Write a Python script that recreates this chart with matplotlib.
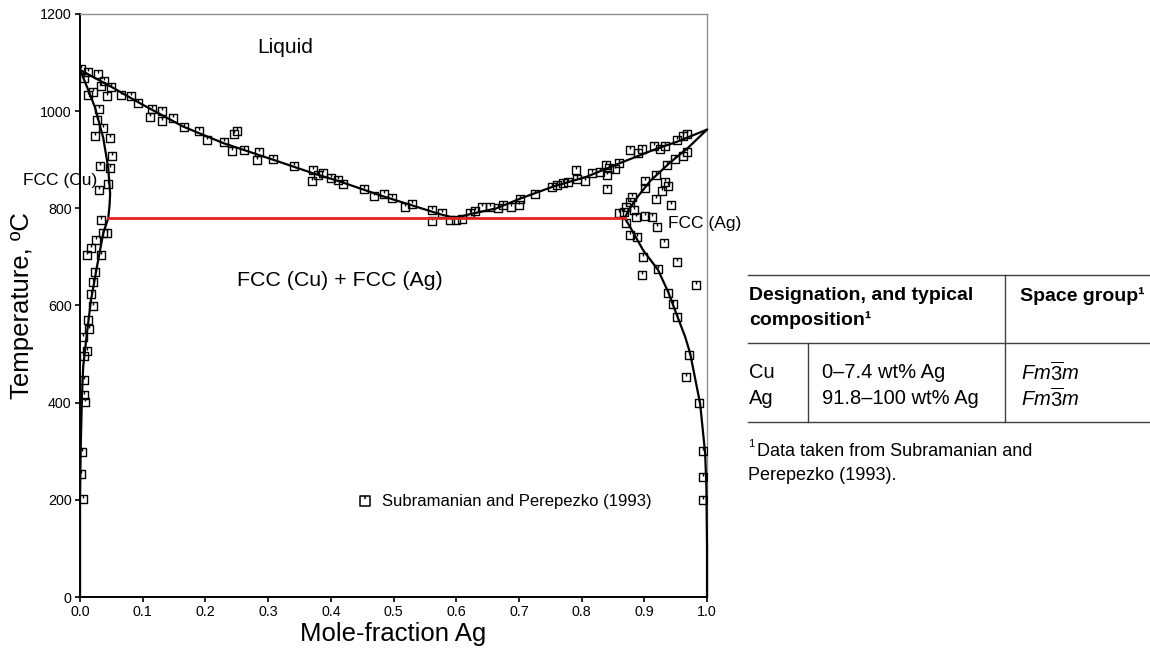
import numpy as np
import matplotlib
matplotlib.use("Agg")
import matplotlib.pyplot as plt
from matplotlib.path import Path
from matplotlib.lines import Line2D

plt.rcParams["font.family"] = ["Liberation Sans", "DejaVu Sans"]
plt.rcParams["mathtext.fontset"] = "custom"
plt.rcParams["mathtext.rm"] = "Liberation Sans"
plt.rcParams["mathtext.it"] = "Liberation Sans:italic"
plt.rcParams["mathtext.bf"] = "Liberation Sans:bold"

# ===============================
# Measured points (Subramanian and Perepezko, 1993)
# ===============================
cu_x = [0.002, 0.012, 0.006, 0.028, 0.038, 0.033, 0.049, 0.020, 0.012, 0.043,
        0.030, 0.027, 0.037, 0.024, 0.047, 0.051, 0.032, 0.047, 0.045, 0.030,
        0.033, 0.036, 0.043, 0.025, 0.017, 0.011, 0.033, 0.024, 0.021, 0.018,
        0.020, 0.012, 0.014, 0.004, 0.011, 0.006, 0.006, 0.006, 0.008, 0.003,
        0.002, 0.004]
cu_t = [1087, 1080, 1068, 1077, 1063, 1052, 1049, 1039, 1033, 1031,
        1005, 982, 966, 949, 944, 908, 887, 882, 850, 838,
        777, 750, 749, 735, 718, 703, 703, 668, 649, 623,
        599, 570, 551, 535, 507, 496, 447, 416, 402, 299,
        253, 201]

liq_x = [0.066, 0.082, 0.092, 0.114, 0.130, 0.112, 0.130, 0.149, 0.166, 0.190,
         0.202, 0.229, 0.250, 0.245, 0.242, 0.262, 0.285, 0.283, 0.307, 0.342,
         0.372, 0.370, 0.380, 0.388, 0.401, 0.412, 0.420, 0.453, 0.469, 0.485,
         0.498, 0.518, 0.530, 0.562, 0.561, 0.577, 0.590, 0.600, 0.610, 0.622,
         0.630, 0.641, 0.654, 0.666, 0.675, 0.687, 0.700, 0.702, 0.726, 0.752,
         0.760, 0.771, 0.779, 0.791, 0.792, 0.805, 0.816, 0.829, 0.839, 0.841,
         0.840, 0.844, 0.854, 0.859, 0.877, 0.890, 0.897, 0.915, 0.925, 0.933,
         0.952, 0.961, 0.968]
liq_t = [1033, 1031, 1017, 1004, 1000, 987, 980, 985, 967, 959,
         941, 936, 959, 953, 917, 921, 915, 900, 901, 887,
         879, 857, 869, 872, 863, 858, 851, 840, 825, 829,
         821, 803, 809, 797, 774, 790, 776, 776, 779, 790,
         795, 802, 802, 800, 806, 803, 807, 819, 830, 843,
         848, 853, 855, 878, 860, 857, 873, 875, 890, 869,
         839, 882, 880, 894, 920, 913, 922, 929, 923, 929,
         941, 948, 954]

ag_x = [0.968, 0.961, 0.949, 0.936, 0.919, 0.901, 0.901, 0.933, 0.938, 0.928,
        0.919, 0.881, 0.877, 0.871, 0.860, 0.867, 0.887, 0.901, 0.913, 0.943,
        0.920, 0.883, 0.870, 0.877, 0.889, 0.932, 0.898, 0.952, 0.922, 0.896,
        0.983, 0.937, 0.945, 0.952, 0.971, 0.966, 0.988, 0.993, 0.993, 0.993]
ag_t = [915, 908, 901, 889, 869, 856, 841, 855, 845, 836,
        820, 823, 814, 802, 791, 793, 782, 784, 782, 807,
        761, 797, 769, 746, 742, 728, 699, 690, 675, 663,
        642, 625, 603, 577, 498, 453, 399, 301, 246, 200]

# ===============================
# Assessed phase boundaries
# ===============================
liquidus_x = [0.0, 0.05, 0.096, 0.165, 0.229, 0.308, 0.372, 0.415, 0.478, 0.537,
              0.574, 0.598, 0.622, 0.664, 0.702, 0.755, 0.808, 0.861, 0.914, 0.952, 1.0]
liquidus_t = [1085, 1050, 1016, 968, 934, 900, 872, 855, 827, 803,
              788, 780, 788, 800, 820, 845, 865, 893, 920, 937, 962]

cu_bound_x = [0.0, 0.013, 0.024, 0.037, 0.045, 0.048, 0.047, 0.045, 0.037, 0.027,
              0.0175, 0.011, 0.005, 0.003, 0.001, 0.0, 0.0]
cu_bound_t = [1085, 1044, 1007, 945, 883, 830, 805, 780, 749, 680,
              611, 543, 474, 412, 302, 200, 0]

ag_bound_x = [1.0, 0.97, 0.94, 0.91, 0.89, 0.875, 0.869, 0.878, 0.898, 0.922,
              0.938, 0.952, 0.965, 0.973, 0.989, 0.997, 0.999, 1.0, 1.0]
ag_bound_t = [962, 925, 893, 857, 825, 797, 780, 760, 714, 673,
              628, 580, 536, 502, 398, 296, 227, 100, 0]

eutectic_t = 780
eutectic_x = [0.045, 0.869]

# ===============================
# Table content
# ===============================
tab_header = ["Designation, and typical", "composition\u00b9", "Space group\u00b9"]
tab_phase = ["Cu", "Ag"]
tab_comp = ["0\u20137.4 wt% Ag", "91.8\u2013100 wt% Ag"]
tab_group = [r"$\mathit{Fm\overline{3}m}$", r"$\mathit{Fm\overline{3}m}$"]
footnote = ["Data taken from Subramanian and", "Perepezko (1993)."]

# square marker with a short tick at the top
mk = Path([(-1, -1), (1, -1), (1, 1), (-1, 1), (-1, -1), (0, 1), (0, 0.3)],
          [Path.MOVETO, Path.LINETO, Path.LINETO, Path.LINETO, Path.CLOSEPOLY,
           Path.MOVETO, Path.LINETO])

fig = plt.figure(figsize=(11.5, 6.48), dpi=100)
ax = fig.add_axes([0.0696, 0.0787, 0.5452, 0.8997])

pts = dict(marker=mk, linestyle="none", markersize=6, mfc="none",
           mec="black", mew=1.0)
ax.plot(cu_x, cu_t, zorder=3, **pts)
ax.plot(liq_x, liq_t, zorder=3, **pts)
ax.plot(ag_x, ag_t, zorder=3, **pts)

ax.plot(liquidus_x, liquidus_t, color="black", lw=1.6, zorder=4)
ax.plot(cu_bound_x, cu_bound_t, color="black", lw=1.6, zorder=4)
ax.plot(ag_bound_x, ag_bound_t, color="black", lw=1.6, zorder=4, clip_on=False)
ax.plot(eutectic_x, [eutectic_t, eutectic_t], color="#e02424", lw=2.0, zorder=4)

ax.set_xlim(0, 1)
ax.set_ylim(0, 1200)
ax.set_xticks(np.arange(0, 1.01, 0.1))
ax.set_xticklabels([f"{v:.1f}" for v in np.arange(0, 1.01, 0.1)])
ax.set_yticks(np.arange(0, 1201, 200))
ax.tick_params(direction="out", length=3.5, width=1.2, labelsize=10.3, pad=2.5)

for s in ["left", "bottom"]:
    ax.spines[s].set_color("black")
    ax.spines[s].set_linewidth(1.4)
for s in ["top", "right"]:
    ax.spines[s].set_color("#909090")
    ax.spines[s].set_linewidth(1.0)

ax.set_xlabel("Mole-fraction Ag", fontsize=18.5, labelpad=2)
ax.set_ylabel("Temperature, \u00baC", fontsize=18.5, labelpad=4)

ax.text(0.327, 1132, "Liquid", ha="center", va="center", fontsize=15)
ax.text(-0.091, 858, "FCC (Cu)", ha="left", va="center", fontsize=12.5,
        clip_on=False)
ax.text(0.415, 652, "FCC (Cu) + FCC (Ag)", ha="center", va="center",
        fontsize=15.4)
ax.text(0.938, 768, "FCC (Ag)", ha="left", va="center", fontsize=12.5,
        clip_on=False)

hnd = Line2D([], [], marker=mk, linestyle="none", markersize=7.5, mfc="none",
             mec="black", mew=1.1)
ax.legend([hnd], ["Subramanian and Perepezko (1993)"], loc="center left",
          bbox_to_anchor=(0.442, 0.163), frameon=False, fontsize=12,
          handlelength=1.0, handletextpad=0.47, borderpad=0, borderaxespad=0)

# ===============================
# Phase table (pixel coordinates)
# ===============================
tb = fig.add_axes([0, 0, 1, 1], zorder=-1)
tb.set_xlim(0, 1150)
tb.set_ylim(648, 0)
tb.axis("off")

rule = dict(color="#404040", lw=1.0)
tb.plot([748, 1150], [275, 275], **rule)
tb.plot([748, 1150], [343, 343], **rule)
tb.plot([748, 1150], [422, 422], **rule)
tb.plot([808, 808], [343, 422], **rule)
tb.plot([1005, 1005], [275, 422], **rule)

hdr = dict(fontsize=14, fontweight="bold", va="center")
tb.text(749, 296, tab_header[0], **hdr)
tb.text(749, 320, tab_header[1], **hdr)
tb.text(1020, 296, tab_header[2], **hdr)
for i in range(len(tab_phase)):
    y = 373 + 26 * i
    tb.text(749, y, tab_phase[i], fontsize=14.5, va="center")
    tb.text(822, y, tab_comp[i], fontsize=14.5, va="center")
    tb.text(1021, y, tab_group[i], fontsize=14.5, va="center")

tb.text(748, 444, "1", fontsize=8, va="center")
tb.text(757, 452, footnote[0], fontsize=13, va="center")
tb.text(748, 476, footnote[1], fontsize=13, va="center")

fig.savefig("out.png", dpi=100)
